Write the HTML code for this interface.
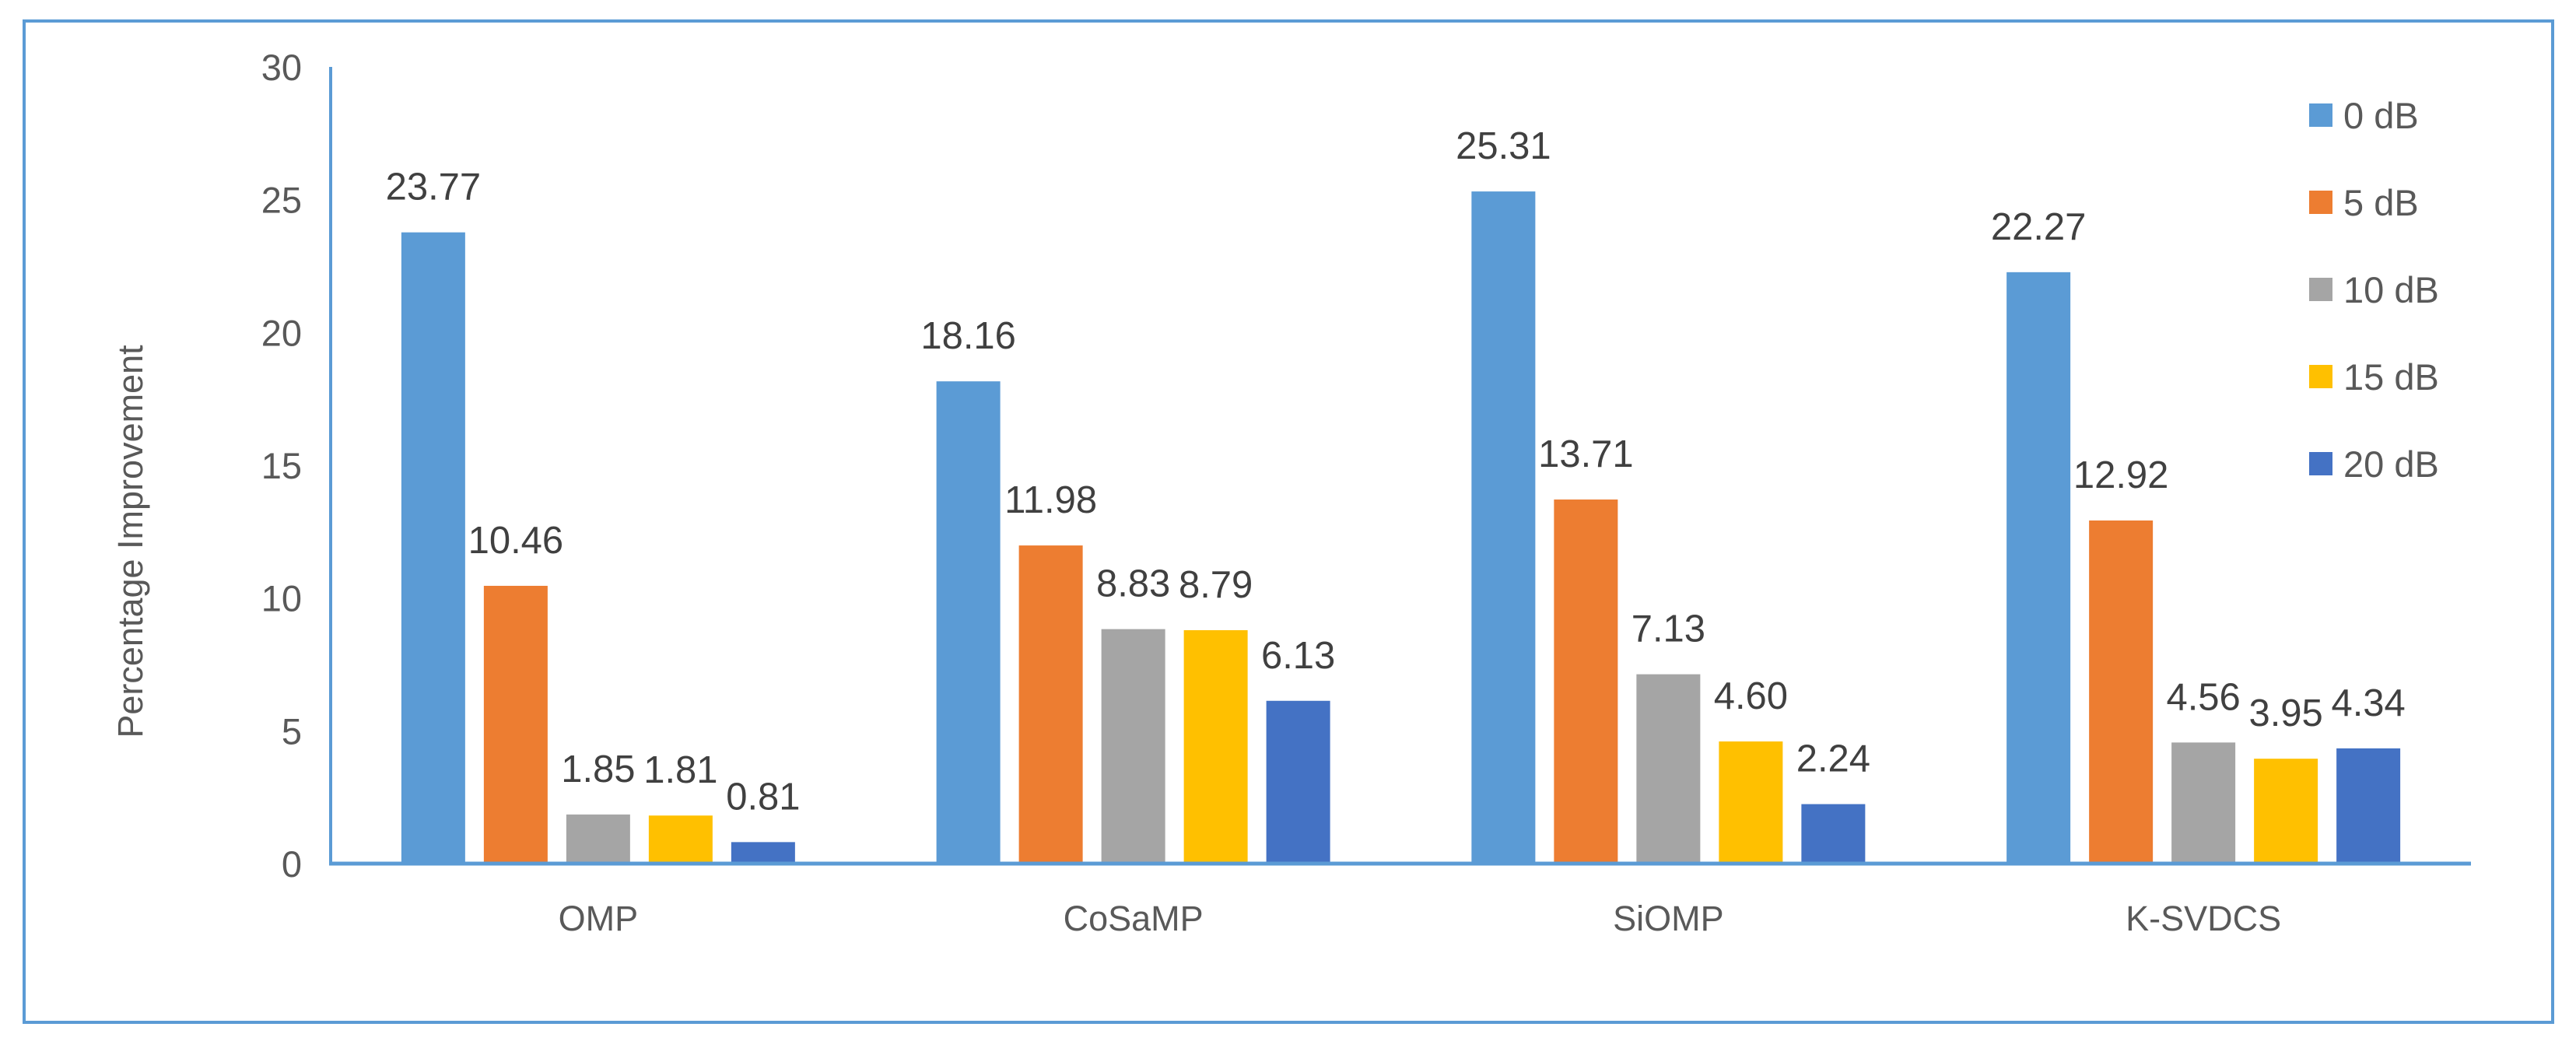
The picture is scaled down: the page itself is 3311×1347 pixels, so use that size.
<!DOCTYPE html>
<html><head><meta charset="utf-8">
<style>
html,body{margin:0;padding:0;background:#fff;}
svg{display:block;font-family:"Liberation Sans",sans-serif;}
</style></head>
<body>
<svg id="chart" width="3311" height="1347" viewBox="0 0 3311 1347" xmlns="http://www.w3.org/2000/svg">
<rect x="31" y="27" width="3250" height="1287" fill="#fff" stroke="#5B9BD5" stroke-width="4"/>
<text x="0" y="0" transform="translate(183,696) rotate(-90)" text-anchor="middle" font-size="45" fill="#595959">Percentage Improvement</text>
<g id="plot"></g>
</svg>
<script>
const categories = ["OMP", "CoSaMP", "SiOMP", "K-SVDCS"];
const seriesNames = ["0 dB", "5 dB", "10 dB", "15 dB", "20 dB"];
const s0dB = [23.77, 18.16, 25.31, 22.27];
const s5dB = [10.46, 11.98, 13.71, 12.92];
const s10dB = [1.85, 8.83, 7.13, 4.56];
const s15dB = [1.81, 8.79, 4.60, 3.95];
const s20dB = [0.81, 6.13, 2.24, 4.34];
const yTicks = [0, 5, 10, 15, 20, 25, 30];

const series = [s0dB, s5dB, s10dB, s15dB, s20dB];
const colors = ["#5B9BD5", "#ED7D31", "#A5A5A5", "#FFC000", "#4472C4"];
const NS = "http://www.w3.org/2000/svg";
const plot = document.getElementById("plot");
const x0 = 425, x1 = 3176, yZero = 1110, yTop = 86, yMax = 30;
const catW = (x1 - x0) / categories.length;
const barW = 82, gap = 24;
function yScale(v){ return yZero - (v / yMax) * (yZero - yTop); }
function mk(tag, attrs){ const e = document.createElementNS(NS, tag); for (const k in attrs) e.setAttribute(k, attrs[k]); return e; }

yTicks.forEach(t => {
  const tx = mk("text", {x: 388, y: yScale(t) + 17, "text-anchor": "end", "font-size": 47, fill: "#595959"});
  
  
  tx.textContent = t;
  plot.appendChild(tx);
});

const groupW = series.length * barW + (series.length - 1) * gap;
categories.forEach((c, ci) => {
  const cx = x0 + catW * (ci + 0.5);
  const gx = cx - groupW / 2;
  series.forEach((s, si) => {
    const v = s[ci];
    const bx = gx + si * (barW + gap);
    const by = yScale(v);
    const r = mk("rect", {x: bx, y: by, width: barW, height: yZero - by, fill: colors[si]});
    
    
    plot.appendChild(r);
    const lt = mk("text", {x: bx + barW / 2, y: by - 42, "text-anchor": "middle", "font-size": 49, fill: "#404040"});
    
    
    lt.textContent = v.toFixed(2);
    plot.appendChild(lt);
  });
  const cl = mk("text", {x: cx, y: 1196, "text-anchor": "middle", "font-size": 45, fill: "#595959"});
  
  
  cl.textContent = c;
  plot.appendChild(cl);
});

const ya = mk("line", {x1: x0, y1: yTop, x2: x0, y2: yZero + 2, stroke: "#5B9BD5", "stroke-width": 4});


plot.appendChild(ya);
const xa = mk("line", {x1: x0 - 2, y1: yZero, x2: x1, y2: yZero, stroke: "#5B9BD5", "stroke-width": 5});


plot.appendChild(xa);

seriesNames.forEach((n, i) => {
  const cy = 148 + i * 112;
  const g = mk("g", {});
  
  
  g.appendChild(mk("rect", {x: 2968, y: cy - 15, width: 30, height: 30, fill: colors[i]}));
  const t = mk("text", {x: 3012, y: cy + 17, "font-size": 47, fill: "#595959"});
  t.textContent = n;
  g.appendChild(t);
  plot.appendChild(g);
});
</script>
</body></html>
